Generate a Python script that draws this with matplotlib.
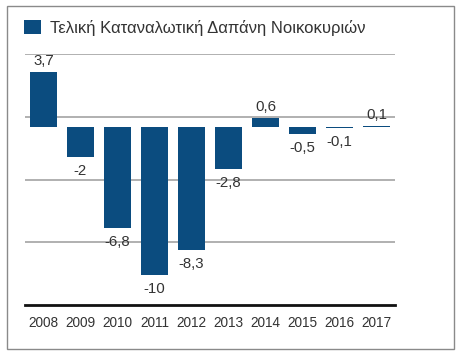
import numpy as np
import matplotlib
matplotlib.use("Agg")
import matplotlib.pyplot as plt
from matplotlib.patches import Rectangle

# data
years = ["2008", "2009", "2010", "2011", "2012", "2013", "2014", "2015", "2016", "2017"]
values = [3.7, -2, -6.8, -10, -8.3, -2.8, 0.6, -0.5, -0.1, 0.1]
series_name = "Τελική Καταναλωτική Δαπάνη Νοικοκυριών"

bar_color = "#0b4c7f"
text_color = "#333333"
plt.rcParams['font.family'] = ['Liberation Sans', 'DejaVu Sans']

W, H = 464, 358
fig = plt.figure(figsize=(W / 100, H / 100), dpi=100)

# outer frame
fig.add_artist(Rectangle((7 / W, 1 - 349 / H), (454 - 7) / W, (349 - 6) / H,
                         transform=fig.transFigure, fill=False,
                         edgecolor="#8a8a8a", linewidth=1.0))

ax = fig.add_axes([25 / W, 1 - 305 / H, (395 - 25) / W, (305 - 54) / H])

x = np.arange(len(years))
bars = ax.bar(x, values, width=0.73, color=bar_color, label=series_name, zorder=3)

ymin, ymax = -12, 4.92
ax.set_ylim(ymin, ymax)
ax.set_xlim(-0.5, len(years) - 0.5)

# light grey gridlines (evenly spaced, not on zero)
for gy in np.linspace(ymin, ymax, 5)[1:]:
    ax.axhline(gy, color="#b0b0b0", linewidth=1.4, zorder=1)

for s in ["top", "right", "left"]:
    ax.spines[s].set_visible(False)
ax.spines["bottom"].set_color("#111111")
ax.spines["bottom"].set_linewidth(2.0)
ax.set_yticks([])
ax.set_xticks(x)
ax.set_xticklabels(years, fontsize=9.8, color=text_color)
ax.tick_params(axis="x", length=0, pad=8)

# value labels
for xi, v in zip(x, values):
    lab = f"{v:g}".replace(".", ",")
    if v >= 0:
        ax.annotate(lab, (xi, v), xytext=(0, 4), textcoords="offset pixels",
                    ha="center", va="bottom", fontsize=10.8, color=text_color, zorder=4)
    else:
        ax.annotate(lab, (xi, v), xytext=(0, -7), textcoords="offset pixels",
                    ha="center", va="top", fontsize=10.8, color=text_color, zorder=4)

fig.legend(handles=[bars], labels=[series_name], loc="center left",
           bbox_to_anchor=(24 / W, 1 - 28 / H), frameon=False,
           fontsize=12, handlelength=1.0, handleheight=0.95,
           handletextpad=0.55, borderpad=0, borderaxespad=0, labelcolor=text_color)

fig.savefig("out.png", dpi=100)
